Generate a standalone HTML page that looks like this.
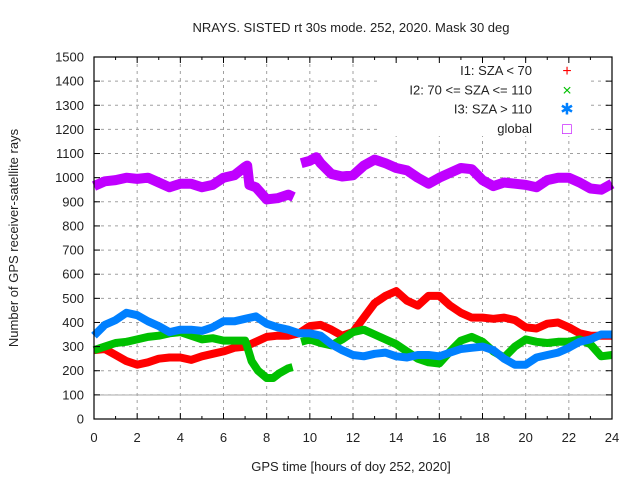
<!DOCTYPE html>
<html><head><meta charset="utf-8"><style>
body{margin:0;background:#fff}
svg{display:block;font-family:"Liberation Sans",sans-serif;font-size:13px}
</style></head><body>
<svg id="chart" width="640" height="480" viewBox="0 0 640 480">
<rect width="640" height="480" fill="#fff"/>
<g id="grid"></g>
<line x1="94" x2="612" y1="395" y2="395" stroke="#aaaaaa" stroke-width="1"/>
<g id="series"></g>
<rect x="378" y="60" width="212" height="76" fill="#fff"/>
<g id="axes"></g>
<text x="351" y="32" text-anchor="middle" fill="#222">NRAYS. SISTED rt 30s mode. 252, 2020. Mask 30 deg</text>
<text x="351" y="471" text-anchor="middle" fill="#222">GPS time [hours of doy 252, 2020]</text>
<text transform="translate(18,238) rotate(-90)" text-anchor="middle" fill="#222">Number of GPS receiver-satellite rays</text>
<g id="legend"></g>
</svg>
<script>
const hours=[0,0.5,1,1.5,2,2.5,3,3.5,4,4.5,5,5.5,6,6.5,7,7.5,8,8.5,9,9.5,10,10.5,11,11.5,12,12.5,13,13.5,14,14.5,15,15.5,16,16.5,17,17.5,18,18.5,19,19.5,20,20.5,21,21.5,22,22.5,23,23.5,24];
const globalHours=[0,0.5,1,1.5,2,2.5,3,3.5,4,4.5,5,5.5,6,6.5,7,7.1,7.2,7.5,8,8.5,9,9.25,null,9.6,10,10.3,10.5,11,11.5,12,12.5,13,13.5,14,14.5,15,15.5,16,16.5,17,17.5,18,18.5,19,19.5,20,20.5,21,21.5,22,22.5,23,23.5,24];
const globalVals=[965,985,990,1000,995,1000,980,960,975,975,960,970,1000,1010,1045,1050,970,960,910,915,930,920,null,1060,1070,1085,1060,1015,1005,1010,1050,1075,1060,1040,1030,1000,975,1000,1020,1040,1035,990,965,980,975,970,960,990,1000,1000,980,955,950,975];
const redVals=[285,290,265,240,225,235,250,255,255,245,260,270,280,295,300,320,340,345,345,355,385,390,370,345,360,420,480,510,530,490,470,510,510,470,440,420,420,415,420,410,380,375,395,400,380,355,345,345,345];
const greenHours=[0,0.5,1,1.5,2,2.5,3,3.5,4,4.5,5,5.5,6,6.5,7,7.1,7.3,7.6,8,8.3,8.6,9,9.2,null,9.6,10,10.5,11,11.5,12,12.5,13,13.5,14,14.5,15,15.5,16,16.5,17,17.5,18,18.5,19,19.5,20,20.5,21,21.5,22,22.5,23,23.5,24];
const greenVals=[285,300,315,320,330,340,345,355,360,345,330,335,325,325,325,300,240,200,170,170,190,210,215,null,320,330,315,305,330,360,370,350,330,310,280,250,235,230,280,325,340,320,280,255,300,330,320,315,320,320,330,310,260,265];
const blueVals=[345,390,410,440,430,405,385,360,370,370,365,380,405,405,415,425,395,380,370,355,355,345,310,285,265,260,270,275,260,255,265,265,260,275,290,295,300,285,250,225,225,255,265,275,295,320,330,350,350];
const yTicks=[0,100,200,300,400,500,600,700,800,900,1000,1100,1200,1300,1400,1500];
const xTicks=[0,2,4,6,8,10,12,14,16,18,20,22,24];
const legendLabels=["I1: SZA < 70","I2: 70 <= SZA <= 110","I3: SZA > 110","global"];
const L=94,R=612,T=57,B=419;
const xs=h=>L+h/24*(R-L);
const ys=v=>B-v/1500*(B-T);
const NS="http://www.w3.org/2000/svg";
function mk(tag,attrs,parent){const e=document.createElementNS(NS,tag);for(const k in attrs)e.setAttribute(k,attrs[k]);parent.appendChild(e);return e;}
const grid=document.getElementById('grid'),axes=document.getElementById('axes'),series=document.getElementById('series'),legend=document.getElementById('legend');
yTicks.forEach(v=>{
 if(v>0&&v<1500){const g=mk('line',{x1:L,x2:R,y1:ys(v),y2:ys(v),stroke:'#a0a0a0','stroke-dasharray':'3,4'},grid);
 
 }
 const t=mk('text',{x:L-10,y:ys(v)+4.5,'text-anchor':'end',fill:'#222'},axes);t.textContent=v;
 
 
 mk('line',{x1:L,x2:L+6,y1:ys(v),y2:ys(v),stroke:'#000'},axes);
 mk('line',{x1:R,x2:R-6,y1:ys(v),y2:ys(v),stroke:'#000'},axes);
});
for(let h=0;h<=24;h++){
 const major=h%2===0;
 if(major&&h>0&&h<24){const g=mk('line',{x1:xs(h),x2:xs(h),y1:T,y2:B,stroke:'#a0a0a0','stroke-dasharray':'3,4'},grid);
 
 }
 const len=major?6:3;
 mk('line',{x1:xs(h),x2:xs(h),y1:B,y2:B-len,stroke:'#000'},axes);
 mk('line',{x1:xs(h),x2:xs(h),y1:T,y2:T+len,stroke:'#000'},axes);
}
xTicks.forEach(h=>{const t=mk('text',{x:xs(h),y:B+23,'text-anchor':'middle',fill:'#222'},axes);t.textContent=h;
 
 });
const border=mk('rect',{x:L,y:T,width:R-L,height:B-T,fill:'none',stroke:'#000','stroke-width':1.2},axes);


function path(hs,vs){let d='',pen=false;for(let i=0;i<hs.length;i++){if(hs[i]===null||vs[i]===null){pen=false;continue;}d+=(pen?'L':'M')+xs(hs[i]).toFixed(1)+','+ys(vs[i]).toFixed(1);pen=true;}return d;}
function addSeries(hs,vs,color,name,w){const p=mk('path',{d:path(hs,vs),fill:'none',stroke:color,'stroke-width':w,'stroke-linejoin':'round','stroke-linecap':'butt'},series);
 
 }
addSeries(hours,redVals,'#ff0000','series-i1',8);
addSeries(greenHours,greenVals,'#00c000','series-i2',8);
addSeries(hours,blueVals,'#0080ff','series-i3',8);
addSeries(globalHours,globalVals,'#c000ff','series-global',10);
const colors=['#ff0000','#00c000','#0080ff','#c000ff'];
const marks=['+','×','✱','□'];
legendLabels.forEach((s,i)=>{
 const y=75+i*19.3;
 const t=mk('text',{x:532,y:y,'text-anchor':'end',fill:'#222'},legend);t.textContent=s;
 
 
 const m=mk('text',{x:567,y:y+1,'text-anchor':'middle',fill:colors[i],'font-size':'16px'},legend);m.textContent=marks[i];
 
 
});
</script>
</body></html>
